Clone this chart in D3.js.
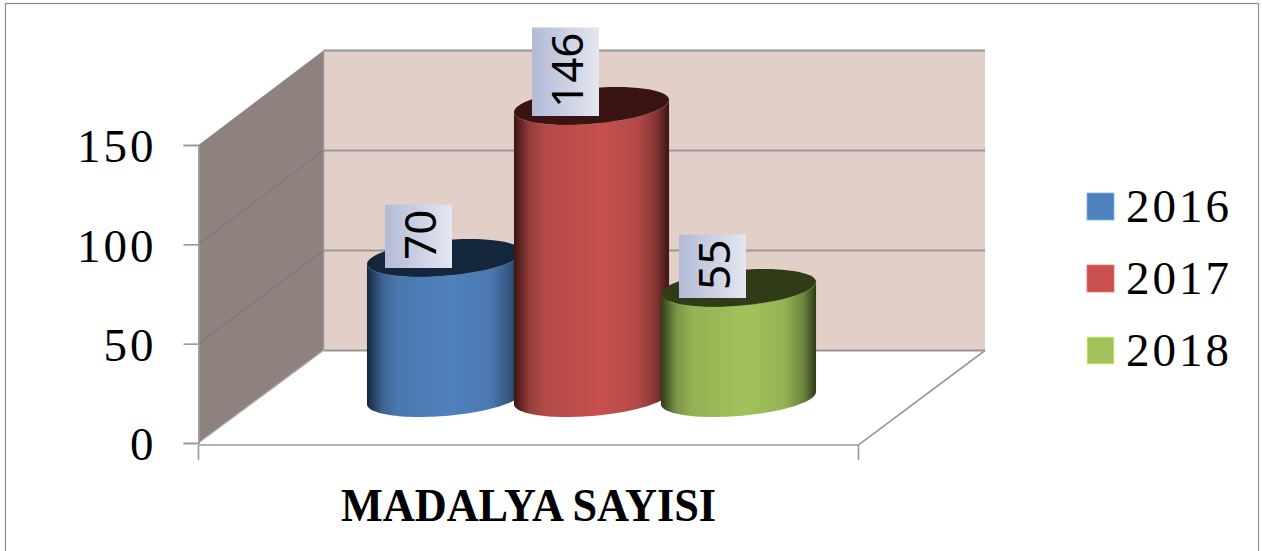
<!DOCTYPE html>
<html lang="tr">
<head>
<meta charset="utf-8">
<title>Madalya Sayisi</title>
<script src="https://d3js.org/d3.v7.min.js"></script>
<style>
  html, body { margin: 0; padding: 0; background: #fff; overflow: hidden; }
  svg { display: block; }
  text { fill: #000; }
  .serif { font-family: "Liberation Serif", serif; font-size: 47px; letter-spacing: 3px; }
</style>
</head>
<body>
<div id="chart"></div>
<script>
var years = ["2016", "2017", "2018"];
var medals = [70, 146, 55];
var yTicks = [0, 50, 100, 150];
var colors = ["#4f81bd", "#c8504d", "#a2c35b"];
var edgeColors = ["#14263b", "#3a1412", "#2f3c17"];
var midColors = ["#4a78af", "#b24a47", "#93b254"];
var title = "MADALYA SAYISI";

var width = 1262, height = 551;
var svg = d3.select("#chart").append("svg").attr("width", width).attr("height", height);
var defs = svg.append("defs");

svg.append("rect").attr("x", 5.5).attr("y", 3.5).attr("width", 1253).attr("height", 600)
  .attr("fill", "#fff").attr("stroke", "#8c8c8c").attr("stroke-width", 1.2);

// front plane and back wall of the fake 3d box
var yFront = d3.scaleLinear().domain([0, 150]).range([443, 145]);
var yBack = d3.scaleLinear().domain([0, 150]).range([350.5, 50.5]);
var yBar = d3.scaleLinear().domain([0, 150]).range([398, 98]);
var frontL = 198.5, frontR = 858.5, backL = 323.5, backR = 985;
var line = d3.line();

svg.append("rect").attr("x", backL).attr("y", yBack(150)).attr("width", backR - backL)
  .attr("height", yBack(0) - yBack(150)).attr("fill", "#e2cfc8");

svg.append("path")
  .attr("d", line([[frontL, yFront(0)], [frontL, yFront(150)], [backL, yBack(150)], [backL, yBack(0)]]) + "Z")
  .attr("fill", "#8f827e");

yTicks.forEach(function (t) {
  svg.append("line").attr("x1", backL).attr("x2", backR).attr("y1", yBack(t)).attr("y2", yBack(t))
    .attr("stroke", "#989898").attr("stroke-width", 2);
  if (t > 0 && t < 150) {
    svg.append("line").attr("x1", frontL).attr("x2", backL).attr("y1", yFront(t)).attr("y2", yBack(t))
      .attr("stroke", "#7d7a76").attr("stroke-width", 1.5);
  }
});
svg.append("line").attr("x1", backL).attr("x2", backL).attr("y1", yBack(150)).attr("y2", yBack(0))
  .attr("stroke", "#989898").attr("stroke-width", 1.5);

// floor outline
svg.append("path")
  .attr("d", line([[frontL, yFront(0)], [backL, yBack(0)]]))
  .attr("stroke", "#b5b5b5").attr("stroke-width", 1.2).attr("fill", "none");
svg.append("path")
  .attr("d", line([[frontL, 445], [frontR, 445], [backR, yBack(0)]]))
  .attr("stroke", "#999").attr("stroke-width", 1.6).attr("fill", "none");
[frontL, frontR].forEach(function (x) {
  svg.append("line").attr("x1", x).attr("x2", x).attr("y1", 445).attr("y2", 460)
    .attr("stroke", "#999").attr("stroke-width", 1.6);
});

// y axis
var axis = svg.append("g").attr("transform", "translate(" + frontL + ",0)")
  .call(d3.axisLeft(yFront).tickValues(yTicks).tickSize(15).tickPadding(27));
axis.select(".domain").attr("stroke", "#999").attr("stroke-width", 1.6);
axis.selectAll(".tick line").attr("stroke", "#999").attr("stroke-width", 1.6);
axis.selectAll(".tick text").attr("fill", "#000").attr("dy", "0.36em")
  .attr("style", "font-family:'Liberation Serif',serif;font-size:47px;letter-spacing:3px");

// cylinders
var xBar = d3.scalePoint().domain(years).range([444.5, 738.5]);
var radiusX = 73.4, depthX = 25, depthY = 19;
var tangent = Math.atan(depthX / radiusX);

function rimPoint(cx, cy, t) {
  return [cx + radiusX * Math.cos(t) + depthX * Math.sin(t), cy - depthY * Math.sin(t)];
}
function rim(cx, cy, from, to) {
  return d3.range(0, 61).map(function (i) {
    return rimPoint(cx, cy, from + (to - from) * i / 60);
  });
}

years.forEach(function (year, i) {
  var cx = xBar(year), top = yBar(medals[i]), base = yBar(0);

  var grad = defs.append("linearGradient").attr("id", "body" + year);
  [[0, edgeColors[i]], [0.1, d3.interpolateRgb(edgeColors[i], midColors[i])(0.75)], [0.2, midColors[i]],
   [0.55, colors[i]], [0.8, midColors[i]], [0.92, d3.interpolateRgb(edgeColors[i], midColors[i])(0.6)],
   [1, edgeColors[i]]].forEach(function (s) {
    grad.append("stop").attr("offset", s[0]).attr("stop-color", s[1]);
  });

  // body: back half of the top rim is covered by the cap, so go along the front of both rims
  var pts = rim(cx, top, tangent, tangent - Math.PI)
    .slice(0, 1)
    .concat(rim(cx, base, tangent, tangent - Math.PI))
    .concat(rim(cx, top, tangent - Math.PI, tangent));
  svg.append("path").attr("d", line(pts) + "Z").attr("fill", "url(#body" + year + ")");

  svg.append("path").attr("d", line(rim(cx, top, 0, 2 * Math.PI)) + "Z")
    .attr("fill", edgeColors[i]);

  svg.append("path").attr("d", line(rim(cx, top, tangent, tangent - Math.PI)))
    .attr("fill", "none").attr("stroke", midColors[i]).attr("stroke-opacity", 0.35);
});

// data labels, rotated
var labelGrad = defs.append("linearGradient").attr("id", "labelFill");
labelGrad.append("stop").attr("offset", 0).attr("stop-color", "#b2bad6");
labelGrad.append("stop").attr("offset", 1).attr("stop-color", "#e4e7f0");

years.forEach(function (year, i) {
  var cx = xBar(year) - 26, bottom = yBar(medals[i]) + 10;
  var g = svg.append("g");
  var box = g.append("rect").attr("fill", "url(#labelFill)");
  var txt = g.append("text")
    .attr("transform", "translate(" + (cx + 17) + "," + (bottom - 8) + ") rotate(-90)")
    .attr("font-family", "'Noto Sans', sans-serif").attr("font-size", 44)
    .text(medals[i]);
  var len = txt.node().getComputedTextLength();
  box.attr("x", cx - 33.5).attr("width", 67).attr("y", bottom - len - 13).attr("height", len + 13);
});

// category title
svg.append("text").attr("x", 528.5).attr("y", 521).attr("text-anchor", "middle")
  .attr("font-family", "'Liberation Serif', serif").attr("font-weight", "bold").attr("font-size", 46)
  .attr("textLength", 375).attr("lengthAdjust", "spacingAndGlyphs")
  .text(title);

// legend
var legendY = d3.scalePoint().domain(years).range([206.5, 350.5]);
years.forEach(function (year, i) {
  svg.append("rect").attr("x", 1087).attr("y", legendY(year) - 13.5).attr("width", 27).attr("height", 27)
    .attr("fill", colors[i]).attr("stroke", d3.color(colors[i]).brighter(1)).attr("stroke-width", 0.8);
  svg.append("text").attr("class", "serif").attr("x", 1126).attr("y", legendY(year) + 15.5).text(year);
});
</script>
</body>
</html>
